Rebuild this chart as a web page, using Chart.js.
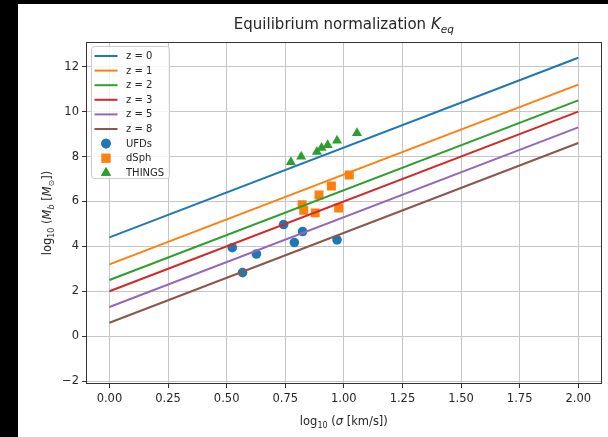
<!DOCTYPE html>
<html>
<head>
<meta charset="utf-8">
<title>Equilibrium normalization</title>
<script src="https://cdn.jsdelivr.net/npm/chart.js@4.4.1/dist/chart.umd.min.js"></script>
<style>
  html, body { margin: 0; padding: 0; background: #000; }
  #wrap { position: absolute; left: 18px; top: 4px; width: 590px; height: 433px; background: #fff; }
</style>
</head>
<body>
<div id="wrap"><canvas id="keqChart"></canvas></div>
<script>
// model lines: log10 M_b at log10 sigma = 0 and = 2 for each redshift
var zLabels = ['z = 0', 'z = 1', 'z = 2', 'z = 3', 'z = 5', 'z = 8'];
var zColors = ['#1f77b4', '#ff7f0e', '#2ca02c', '#d62728', '#9467bd', '#8c564b'];
var lineX = [0, 2];
var lineStart = [4.4, 3.2, 2.5, 2.0, 1.3, 0.6];
var lineEnd = [12.4, 11.2, 10.5, 10.0, 9.3, 8.6];

// observed galaxies
var ufdX = [0.524, 0.568, 0.627, 0.743, 0.789, 0.824, 0.971];
var ufdY = [3.94, 2.83, 3.66, 4.97, 4.17, 4.66, 4.29];
var dsphX = [0.822, 0.829, 0.878, 0.894, 0.947, 0.978, 1.023];
var dsphY = [5.85, 5.60, 5.49, 6.29, 6.69, 5.71, 7.18];
var thingsX = [0.774, 0.818, 0.885, 0.905, 0.931, 0.971, 1.056];
var thingsY = [7.75, 8.00, 8.21, 8.39, 8.51, 8.71, 9.04];

var xTicks = [0, 0.25, 0.5, 0.75, 1.0, 1.25, 1.5, 1.75, 2.0];
var yTicks = [-2, 0, 2, 4, 6, 8, 10, 12];

var FONT = "'DejaVu Sans', sans-serif";
var TEXT = '#262626';

function zip(xs, ys) {
    return xs.map(function(x, i) { return { x: x, y: ys[i] }; });
}

var datasets = [];
zLabels.forEach(function(label, i) {
    datasets.push({
        label: label,
        data: zip(lineX, [lineStart[i], lineEnd[i]]),
        showLine: true,
        borderColor: zColors[i],
        backgroundColor: zColors[i],
        borderWidth: 2,
        pointRadius: 0,
        pointHoverRadius: 0
    });
});
datasets.push({ label: 'UFDs', data: zip(ufdX, ufdY), pointStyle: 'circle', pointRadius: 4.8,
    backgroundColor: '#1f77b4', borderColor: '#1f77b4', borderWidth: 0 });
datasets.push({ label: 'dSph', data: zip(dsphX, dsphY), pointStyle: 'rect', pointRadius: 6.3,
    backgroundColor: '#ff7f0e', borderColor: '#ff7f0e', borderWidth: 0 });
datasets.push({ label: 'THINGS', data: zip(thingsX, thingsY), pointStyle: 'triangle', pointRadius: 5.8,
    backgroundColor: '#2ca02c', borderColor: '#2ca02c', borderWidth: 0 });

// text runs: [text, size, italic, shift down]
function richWidth(ctx, parts) {
    var w = 0;
    parts.forEach(function(p) {
        ctx.font = (p[2] ? 'italic ' : '') + p[1] + 'px ' + FONT;
        w += ctx.measureText(p[0]).width;
    });
    return w;
}

function drawRich(ctx, parts, cx, baseline) {
    var x = cx - richWidth(ctx, parts) / 2;
    ctx.textAlign = 'left';
    ctx.textBaseline = 'alphabetic';
    parts.forEach(function(p) {
        ctx.font = (p[2] ? 'italic ' : '') + p[1] + 'px ' + FONT;
        ctx.fillText(p[0], x, baseline + (p[3] || 0));
        x += ctx.measureText(p[0]).width;
    });
}

var decorations = {
    id: 'decorations',
    afterDraw: function(chart) {
        var ctx = chart.ctx;
        var a = chart.chartArea;
        ctx.save();

        // axes frame
        ctx.strokeStyle = '#333';
        ctx.lineWidth = 1;
        ctx.strokeRect(Math.round(a.left) + 0.5, Math.round(a.top) + 0.5,
            Math.round(a.right - a.left) - 1, Math.round(a.bottom - a.top) - 1);

        ctx.fillStyle = TEXT;
        var cx = (a.left + a.right) / 2;
        drawRich(ctx, [['Equilibrium normalization ', 15], ['K', 15, true], ['eq', 10.5, true, 3.5]], cx, 25);
        drawRich(ctx, [['log', 11.5], ['10', 8, false, 3], [' (', 11.5], ['\u03c3', 11.5, true],
            [' [km/s])', 11.5]], cx, 421);

        ctx.save();
        ctx.translate(33, (a.top + a.bottom) / 2);
        ctx.rotate(-Math.PI / 2);
        drawRich(ctx, [['log', 11.5], ['10', 8, false, 3], [' (', 11.5], ['M', 11.5, true], ['b', 8, true, 3],
            [' [', 11.5], ['M', 11.5, true], ['\u2299', 8, false, 3], ['])', 11.5]], 0, 0);
        ctx.restore();

        // legend
        var bx = a.left + 5, by = a.top + 4, bw = 78, bh = 132;
        ctx.fillStyle = 'rgba(255,255,255,0.8)';
        ctx.strokeStyle = '#cccccc';
        ctx.beginPath();
        ctx.roundRect(bx + 0.5, by + 0.5, bw, bh, 3);
        ctx.fill();
        ctx.stroke();

        ctx.font = '10px ' + FONT;
        ctx.textBaseline = 'middle';
        ctx.textAlign = 'left';
        chart.data.datasets.forEach(function(ds, i) {
            var y = by + 10 + i * 14.6;
            if (ds.showLine) {
                ctx.strokeStyle = ds.borderColor;
                ctx.lineWidth = 2;
                ctx.beginPath();
                ctx.moveTo(bx + 3.5, y);
                ctx.lineTo(bx + 26.5, y);
                ctx.stroke();
            } else {
                ctx.fillStyle = ds.backgroundColor;
                Chart.helpers.drawPoint(ctx, { pointStyle: ds.pointStyle, radius: ds.pointRadius, borderWidth: 0 },
                    bx + 15, y);
                ctx.fill();
            }
            ctx.fillStyle = TEXT;
            ctx.fillText(ds.label, bx + 35, y + 0.5);
        });

        ctx.restore();
    }
};

function minusLabel(v) {
    return v < 0 ? '\u2212' + Math.abs(v) : String(v);
}

var ctxKeq = document.getElementById('keqChart').getContext('2d');
var keqChart = new Chart(ctxKeq, {
    type: 'scatter',
    data: { datasets: datasets },
    options: {
        responsive: true,
        maintainAspectRatio: false,
        animation: false,
        layout: { padding: { top: 38, right: 6, left: 0, bottom: 0 } },
        plugins: {
            legend: { display: false },
            title: { display: false },
            tooltip: { enabled: false }
        },
        scales: {
            x: {
                type: 'linear',
                min: -0.1,
                max: 2.1,
                afterBuildTicks: function(scale) {
                    scale.ticks = xTicks.map(function(v) { return { value: v }; });
                },
                afterFit: function(scale) { scale.height = 53; },
                border: { display: false },
                grid: { color: '#c6c6c6', lineWidth: 1, tickLength: 4, tickColor: '#333', tickWidth: 1 },
                ticks: {
                    padding: 4,
                    color: TEXT,
                    font: { family: FONT, size: 11.5 },
                    maxRotation: 0,
                    callback: function(v) { return v.toFixed(2); }
                }
            },
            y: {
                type: 'linear',
                min: -2.13,
                max: 13.1,
                afterBuildTicks: function(scale) {
                    scale.ticks = yTicks.map(function(v) { return { value: v }; });
                },
                afterFit: function(scale) { scale.width = 68; },
                border: { display: false },
                grid: { color: '#c6c6c6', lineWidth: 1, tickLength: 4, tickColor: '#333', tickWidth: 1 },
                ticks: {
                    padding: 3,
                    color: TEXT,
                    font: { family: FONT, size: 11.5 },
                    callback: function(v) { return minusLabel(v); }
                }
            }
        }
    },
    plugins: [decorations]
});
</script>
</body>
</html>
